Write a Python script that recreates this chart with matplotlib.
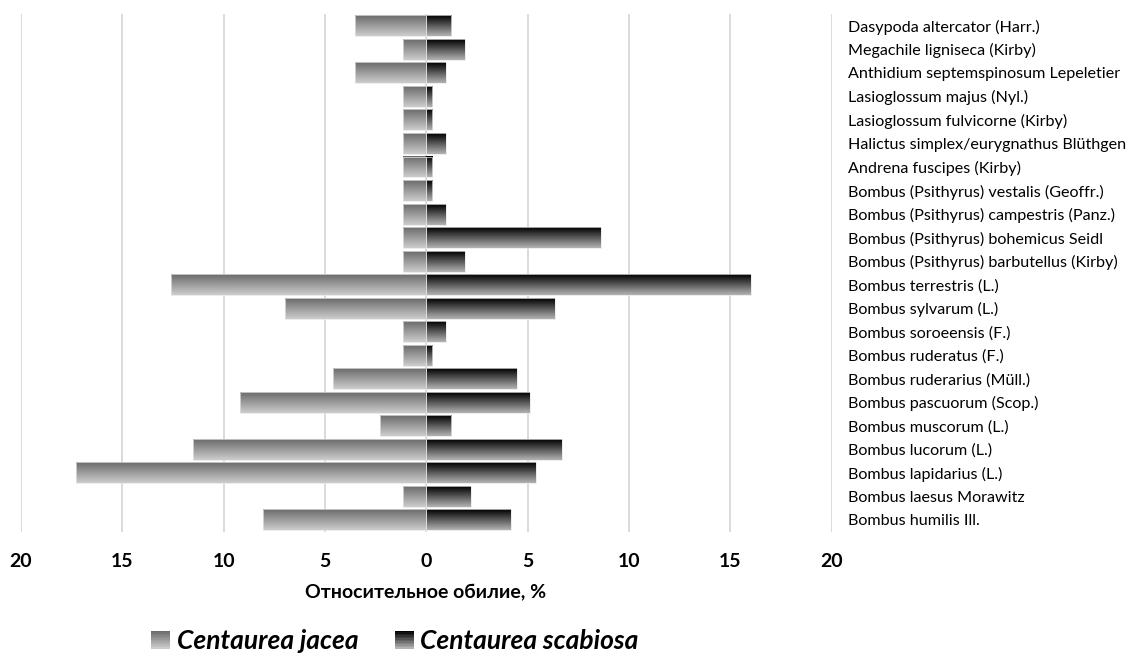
import matplotlib
matplotlib.use("Agg")
import matplotlib.pyplot as plt
import numpy as np
from matplotlib.legend_handler import HandlerBase
from matplotlib.patches import Rectangle

plt.rcParams['font.family'] = ['Lato', 'DejaVu Sans']

species = [
    "Dasypoda altercator (Harr.)",
    "Megachile ligniseca (Kirby)",
    "Anthidium septemspinosum Lepeletier",
    "Lasioglossum majus (Nyl.)",
    "Lasioglossum fulvicorne (Kirby)",
    "Halictus simplex/eurygnathus Blüthgen",
    "Andrena fuscipes (Kirby)",
    "Bombus (Psithyrus) vestalis (Geoffr.)",
    "Bombus (Psithyrus) campestris (Panz.)",
    "Bombus (Psithyrus) bohemicus Seidl",
    "Bombus (Psithyrus) barbutellus (Kirby)",
    "Bombus terrestris (L.)",
    "Bombus sylvarum (L.)",
    "Bombus soroeensis (F.)",
    "Bombus ruderatus (F.)",
    "Bombus ruderarius (Müll.)",
    "Bombus pascuorum (Scop.)",
    "Bombus muscorum (L.)",
    "Bombus lucorum (L.)",
    "Bombus lapidarius (L.)",
    "Bombus laesus Morawitz",
    "Bombus humilis Ill.",
]
jacea = [3.5, 1.17, 3.5, 1.17, 1.17, 1.17, 1.17, 1.17, 1.17, 1.17, 1.17,
         12.6, 6.95, 1.17, 1.17, 4.6, 9.2, 2.3, 11.5, 17.3, 1.17, 8.07]
scabiosa = [1.24, 1.9, 0.95, 0.3, 0.3, 0.95, 0.3, 0.3, 0.95, 8.6, 1.9,
            16.0, 6.35, 0.95, 0.3, 4.45, 5.1, 1.24, 6.7, 5.4, 2.2, 4.17]
series_names = ["Centaurea jacea", "Centaurea scabiosa"]
xticks = [-20, -15, -10, -5, 0, 5, 10, 15, 20]
xtick_labels = ["20", "15", "10", "5", "0", "5", "10", "15", "20"]
xlabel = "Относительное обилие, %"

# gradient ranges (gray level top -> bottom)
grad_left = (0.42, 0.80)
grad_right = (0.0, 0.70)

fig = plt.figure(figsize=(11.27, 6.55), dpi=100)
ax = fig.add_axes([0.01863, 0.1882, 0.7193, 0.7904])

y = np.arange(len(species))
bh = 0.89
bars_l = ax.barh(y, [-v for v in jacea], height=bh, facecolor='none',
                 edgecolor='#e6e6e6', linewidth=0.5, zorder=4)
bars_r = ax.barh(y, scabiosa, height=bh, facecolor='none',
                 edgecolor='#e6e6e6', linewidth=0.5, zorder=4)


def grad_fill(bars, g):
    grad = np.linspace(g[0], g[1], 64).reshape(-1, 1)
    for p in bars.patches:
        x0 = p.get_x()
        w = p.get_width()
        y0 = p.get_y()
        h = p.get_height()
        ax.imshow(grad, cmap='gray', vmin=0, vmax=1, aspect='auto',
                  extent=(x0, x0 + w, y0 + h, y0), origin='upper',
                  interpolation='bilinear', zorder=3)


grad_fill(bars_l, grad_left)
grad_fill(bars_r, grad_right)

ax.set_xlim(-20, 20)
ax.set_ylim(len(species) - 0.5, -0.5)
ax.set_xticks(xticks)
ax.set_xticklabels(xtick_labels, fontweight='bold', fontsize=14)
ax.tick_params(axis='x', length=0, pad=15)
ax.set_yticks(y)
ax.set_yticklabels(species, fontsize=11.6)
ax.yaxis.tick_right()
ax.tick_params(axis='y', length=0, pad=12)
for s in ax.spines.values():
    s.set_visible(False)
ax.grid(axis='x', color='#d4d4d4', linewidth=1.2, zorder=0)
ax.set_axisbelow(True)

fig.text(426 / 1127, 1 - 593 / 655, xlabel, ha='center', va='center',
         fontsize=14, fontweight='bold')


class GradHandler(HandlerBase):
    def __init__(self, g):
        super().__init__()
        self.g = g

    def create_artists(self, legend, orig_handle, xdescent, ydescent,
                       width, height, fontsize, trans):
        n = 12
        arts = []
        side = height * 1.0
        x0 = -xdescent + (width - side)
        for i in range(n):
            t = i / (n - 1)
            c = self.g[0] + (self.g[1] - self.g[0]) * t
            r = Rectangle((x0, -ydescent + side * (1 - (i + 1) / n)),
                          side, side / n, facecolor=(c, c, c),
                          edgecolor='none', transform=trans)
            arts.append(r)
        return arts


h1 = Rectangle((0, 0), 1, 1)
h2 = Rectangle((0, 0), 1, 1)
leg = fig.legend([h1, h2], series_names, loc='center',
                 bbox_to_anchor=(395 / 1127, 1 - 641 / 655), ncol=2,
                 frameon=False,
                 handler_map={h1: GradHandler(grad_left), h2: GradHandler(grad_right)},
                 prop={'size': 19, 'weight': 'bold', 'style': 'italic'},
                 handlelength=0.7, handleheight=0.7, handletextpad=0.25,
                 columnspacing=1.4)

fig.savefig("out.png", dpi=100)
